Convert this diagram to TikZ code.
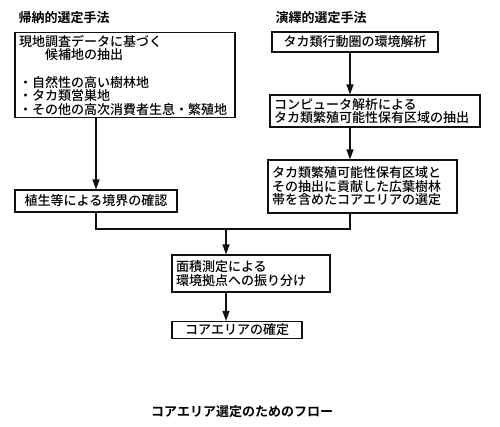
\documentclass[tikz,border=0pt]{standalone}
\usepackage{fontspec}
\setmainfont{Noto Sans CJK JP}[UprightFont=* Medium, BoldFont=* Bold]
\usepackage{tikz}
\usetikzlibrary{arrows.meta}
\definecolor{inkc}{HTML}{111111}
\tikzset{
  stagebox/.style={draw=inkc, line width=1.2pt, inner sep=2pt, align=left, font=\fontsize{13}{13.5}\selectfont},
  headtext/.style={font=\bfseries\fontsize{13}{14}\selectfont, anchor=west},
  flowline/.style={draw=inkc, line width=1.2pt},
  flowarrow/.style={flowline, -{Triangle[length=10pt,width=7pt]}},
}

\begin{document}
\begin{tikzpicture}[x=1pt,y=-1pt]
\useasboundingbox (0,0) rectangle (500,426);
\node[headtext] (induct) at (15,18) {帰納的選定手法};
\node[headtext] (deduct) at (272,18) {演繹的選定手法};
\node[stagebox, minimum width=220pt, minimum height=80pt, text width=212pt] (survey) at (125,75) {現地調査データに基づく\\\hspace{2em}候補地の抽出\\[14pt]・自然性の高い樹林地\\・タカ類営巣地\\・その他の高次消費者生息・繁殖地};
\node[stagebox, minimum width=162pt, minimum height=22pt, align=center] (veg) at (96,201) {植生等による境界の確認};
\node[stagebox, minimum width=166pt, minimum height=20pt, align=center] (range) at (355,42) {タカ類行動圏の環境解析};
\node[stagebox, minimum width=210pt, minimum height=32pt, text width=202pt] (comp) at (375,111) {コンピュータ解析による\\タカ類繁殖可能性保有区域の抽出};
\node[stagebox, minimum width=189pt, minimum height=53pt, text width=181pt] (core) at (362.5,186.5) {タカ類繁殖可能性保有区域と\\その抽出に貢献した広葉樹林\\帯を含めたコアエリアの選定};
\node[stagebox, minimum width=158pt, minimum height=37pt, text width=150pt] (area) at (251,273.5) {面積測定による\\環境拠点への振り分け};
\node[stagebox, minimum width=130pt, minimum height=17pt, align=center] (fix) at (237,330) {コアエリアの確定};
\node[font=\bfseries\fontsize{13}{14}\selectfont] (caption) at (242,412) {コアエリア選定のためのフロー};
\coordinate (rx) at (350,0);
\coordinate (mx) at (226,229);
\draw[flowarrow] (survey.south -| veg.north) -- (veg.north);
\draw[flowarrow] (range.south -| rx) -- (comp.north -| rx);
\draw[flowarrow] (comp.south -| rx) -- (core.north -| rx);
\draw[flowline] (veg.south) |- (mx) -| (core.south -| rx);
\draw[flowarrow] (mx) -- (area.north -| mx);
\draw[flowarrow] (area.south -| mx) -- (fix.north -| mx);
\end{tikzpicture}
\end{document}
